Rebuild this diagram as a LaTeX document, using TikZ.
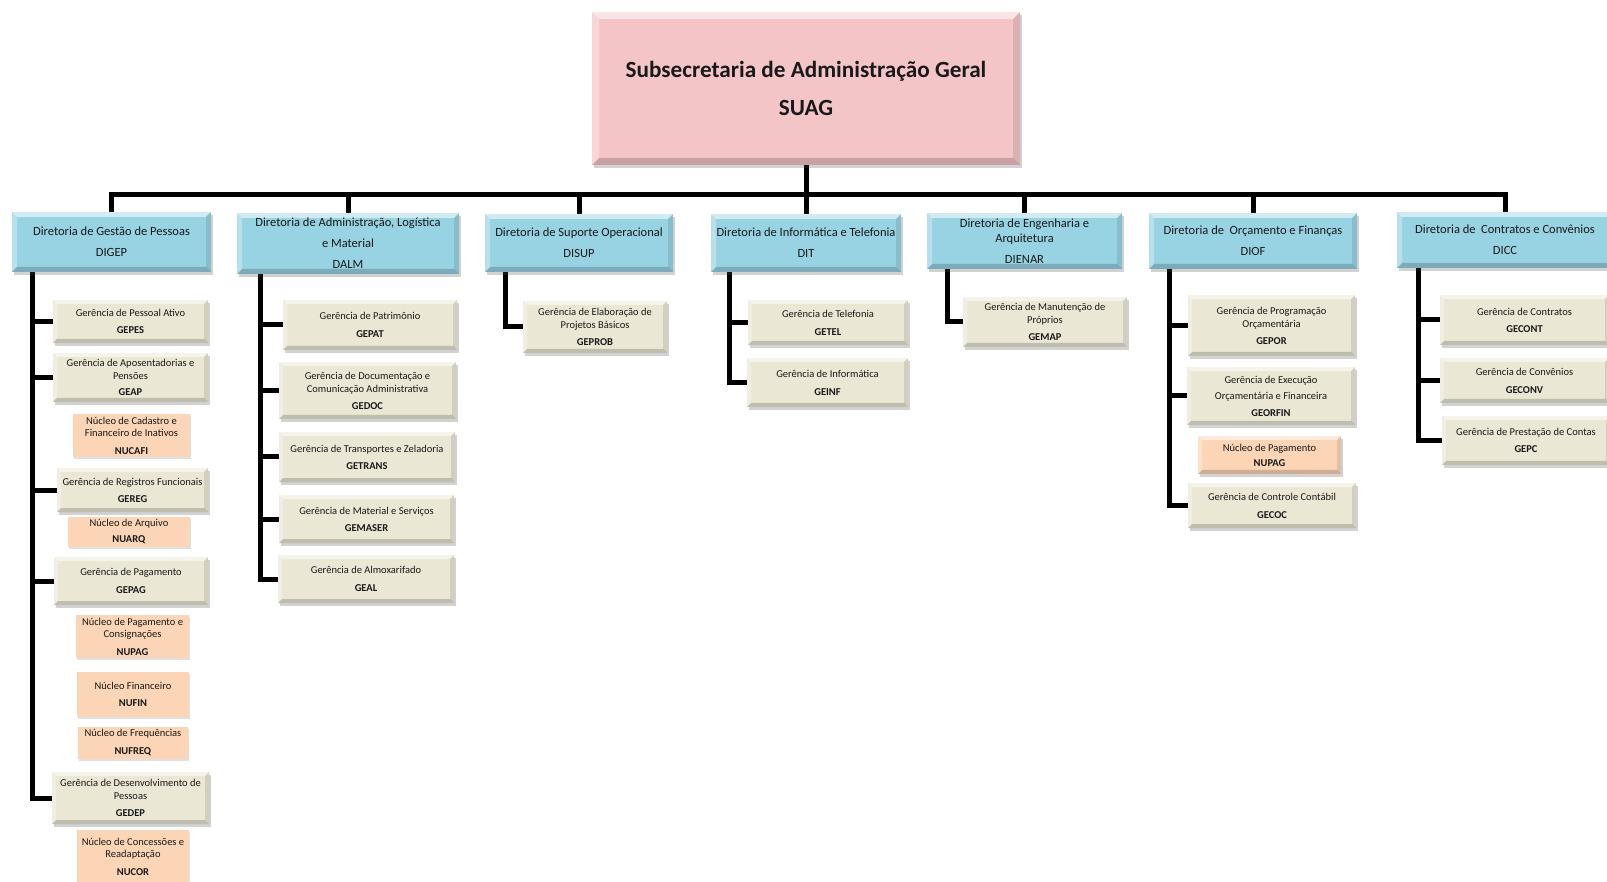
\documentclass[tikz,border=0pt]{standalone}
\usepackage{fontspec}
\setmainfont{Carlito}
\usetikzlibrary{shadows}
\pgfdeclarelayer{paper}
\pgfdeclarelayer{background}
\pgfsetlayers{paper,background,main}
\definecolor{pinkc}{RGB}{244,197,199}
\definecolor{bluec}{RGB}{152,211,228}
\definecolor{tanc}{RGB}{234,231,212}
\definecolor{peachc}{RGB}{251,213,181}
\tikzset{
  bevel/.style={path picture={
    \coordinate (bvA) at (path picture bounding box.north west);
    \coordinate (bvB) at (path picture bounding box.north east);
    \coordinate (bvC) at (path picture bounding box.south east);
    \coordinate (bvD) at (path picture bounding box.south west);
    \fill[white,opacity=.55] (bvA) -- (bvB) -- ([shift={(-#1,-#1)}]bvB) -- ([shift={(#1,-#1)}]bvA) -- cycle;
    \fill[white,opacity=.3] (bvA) -- ([shift={(#1,-#1)}]bvA) -- ([shift={(#1,#1)}]bvD) -- (bvD) -- cycle;
    \fill[black,opacity=.18] (bvD) -- ([shift={(#1,#1)}]bvD) -- ([shift={(-#1,#1)}]bvC) -- (bvC) -- cycle;
    \fill[black,opacity=.1] (bvC) -- ([shift={(-#1,#1)}]bvC) -- ([shift={(-#1,-#1)}]bvB) -- (bvB) -- cycle;
  }},
  boxbase/.style={rectangle, inner sep=0pt, align=center, text=black!90,
    drop shadow={shadow xshift=2pt, shadow yshift=-3pt, opacity=.25, fill=black!70}},
  topbox/.style={boxbase, fill=pinkc, bevel=7pt, font=\fontsize{23.2}{38}\selectfont\bfseries},
  dirbox/.style={boxbase, fill=bluec, bevel=5pt, font=\fontsize{12.5}{21}\selectfont},
  gerbox/.style={boxbase, fill=tanc, bevel=4pt, font=\fontsize{10.5}{13.5}\selectfont},
  nucbox/.style={rectangle, inner sep=0pt, align=center, fill=peachc, text=black!90,
    font=\fontsize{10.5}{12}\selectfont,
    drop shadow={shadow xshift=1pt, shadow yshift=-2pt, opacity=.2, fill=black!60}},
  nucbev/.style={boxbase, fill=peachc, bevel=4pt, font=\fontsize{10.5}{13}\selectfont},
  conn/.style={line width=5pt, black, line join=miter},
}
\newcommand\placebox[7]{%
  \node[#1, minimum width={#5-#3}, minimum height={#6-#4}] (#2) at ({(#3+#5)/2},{(#4+#6)/2}) {#7};}
\begin{document}
\begin{tikzpicture}[x=1pt,y=-1pt]
\useasboundingbox (0,0) rectangle (1607,882);
\clip (0,0) rectangle (1607,882);
\begin{pgfonlayer}{paper}
\fill[white] (0,0) rectangle (1607,882);
\end{pgfonlayer}

% top
\placebox{topbox}{suag}{592}{12}{1020}{165}{Subsecretaria de Administração Geral\\SUAG}

% directorates
\placebox{dirbox}{digep}{12}{212}{211}{272}{Diretoria de Gestão de Pessoas\\DIGEP}
\placebox{dirbox}{dalm}{237}{213}{459}{274}{Diretoria de Administração, Logística\\e Material\\DALM}
\placebox{dirbox}{disup}{485}{214}{673}{272}{Diretoria de Suporte Operacional\\DISUP}
\placebox{dirbox}{dit}{711}{214}{901}{272}{Diretoria de Informática e Telefonia\\DIT}
\placebox{dirbox}{dienar}{927}{213}{1122}{269}{Diretoria de Engenharia e\\[-6pt]Arquitetura\\DIENAR}
\placebox{dirbox}{diof}{1149}{213}{1357}{269}{Diretoria de\ \ Orçamento e Finanças\\DIOF}
\placebox{dirbox}{dicc}{1397}{212}{1613}{268}{Diretoria de\ \ Contratos e Convênios\\DICC}

% DIGEP
\placebox{gerbox}{gepes}{53}{300}{208}{343}{Gerência de Pessoal Ativo\\[3.5pt]\textbf{GEPES}}
\placebox{gerbox}{geap}{53}{353}{208}{402}{Gerência de Aposentadorias e\\Pensões\\[2.5pt]\textbf{GEAP}}
\placebox{nucbox}{nucafi}{73}{414}{190}{457}{Núcleo de Cadastro e\\Financeiro de Inativos\\[6pt]\textbf{NUCAFI}}
\placebox{gerbox}{gereg}{57}{468}{208}{512}{Gerência de Registros Funcionais\\[3.5pt]\textbf{GEREG}}
\placebox{nucbox}{nuarq}{68}{517}{190}{547}{Núcleo de Arquivo\\[4pt]\textbf{NUARQ}}
\placebox{gerbox}{gepag}{54}{557}{208}{605}{Gerência de Pagamento\\[4.5pt]\textbf{GEPAG}}
\placebox{nucbox}{nupaga}{76}{615}{189}{658}{Núcleo de Pagamento e\\Consignações\\[6pt]\textbf{NUPAG}}
\placebox{nucbox}{nufin}{77}{672}{189}{717}{Núcleo Financeiro\\[5pt]\textbf{NUFIN}}
\placebox{nucbox}{nufreq}{78}{727}{188}{759}{Núcleo de Frequências\\[6pt]\textbf{NUFREQ}}
\placebox{gerbox}{gedep}{52}{772}{209}{824}{Gerência de Desenvolvimento de\\[-0.5pt]Pessoas\\[3.5pt]\textbf{GEDEP}}
\placebox{nucbox}{nucor}{77}{830}{189}{884}{Núcleo de Concessões e\\Readaptação\\[6pt]\textbf{NUCOR}}

% DALM
\placebox{gerbox}{gepat}{283}{300}{457}{350}{Gerência de Patrimônio\\[4.5pt]\textbf{GEPAT}}
\placebox{gerbox}{gedoc}{279}{362}{456}{419}{Gerência de Documentação e\\[-0.5pt]Comunicação Administrativa\\[3.5pt]\textbf{GEDOC}}
\placebox{gerbox}{getrans}{279}{432}{455}{482}{Gerência de Transportes e Zeladoria\\[3.5pt]\textbf{GETRANS}}
\placebox{gerbox}{gemaser}{279}{495}{454}{543}{Gerência de Material e Serviços\\[3.5pt]\textbf{GEMASER}}
\placebox{gerbox}{geal}{278}{555}{454}{603}{Gerência de Almoxarifado\\[4.5pt]\textbf{GEAL}}

% DISUP
\placebox{gerbox}{geprob}{523}{301}{667}{353}{Gerência de Elaboração de\\Projetos Básicos\\[3.5pt]\textbf{GEPROB}}

% DIT
\placebox{gerbox}{getel}{748}{300}{908}{345}{Gerência de Telefonia\\[4.5pt]\textbf{GETEL}}
\placebox{gerbox}{geinf}{747}{358}{908}{407}{Gerência de Informática\\[4.5pt]\textbf{GEINF}}

% DIENAR
\placebox{gerbox}{gemap}{963}{297}{1127}{347}{Gerência de Manutenção de\\[-0.5pt]Próprios\\[3.5pt]\textbf{GEMAP}}

% DIOF
\placebox{gerbox}{gepor}{1188}{295}{1355}{356}{Gerência de Programação\\[-0.5pt]Orçamentária\\[3.5pt]\textbf{GEPOR}}
\placebox{gerbox}{georfin}{1187}{367}{1355}{425}{Gerência de Execução\\[2.5pt]Orçamentária e Financeira\\[3.5pt]\textbf{GEORFIN}}
\placebox{nucbev}{nupagb}{1198}{436}{1341}{474}{Núcleo de Pagamento\\[2pt]\textbf{NUPAG}}
\placebox{gerbox}{gecoc}{1188}{483}{1356}{528}{Gerência de Controle Contábil\\[4.5pt]\textbf{GECOC}}

% DICC
\placebox{gerbox}{gecont}{1440}{295}{1609}{345}{Gerência de Contratos\\[3.5pt]\textbf{GECONT}}
\placebox{gerbox}{geconv}{1440}{358}{1609}{403}{Gerência de Convênios\\[4.5pt]\textbf{GECONV}}
\placebox{gerbox}{gepc}{1442}{416}{1610}{465}{Gerência de Prestação de Contas\\[3.5pt]\textbf{GEPC}}

% connectors
\coordinate (bus) at (806,195);
\coordinate (vdigep) at ([xshift=21pt]digep.south west);
\coordinate (vdalm) at ([xshift=24pt]dalm.south west);
\coordinate (vdisup) at ([xshift=21pt]disup.south west);
\coordinate (vdit) at ([xshift=19pt]dit.south west);
\coordinate (vdienar) at ([xshift=21pt]dienar.south west);
\coordinate (vdiof) at ([xshift=21pt]diof.south west);
\coordinate (vdicc) at ([xshift=22pt]dicc.south west);
\begin{pgfonlayer}{background}
\draw[conn] (suag.south) -- (bus);
\draw[conn] (digep.north) |- (bus) -| (dicc.north);
\foreach \d in {dalm,disup,dit,dienar,diof} \draw[conn] (\d.north) -- (\d.north |- bus);
\foreach \c in {gepes,geap,gereg,gepag,gedep} \draw[conn] (vdigep) |- (\c.west);
\foreach \c in {gepat,gedoc,getrans,gemaser,geal} \draw[conn] (vdalm) |- (\c.west);
\draw[conn] (vdisup) |- (geprob.west);
\foreach \c in {getel,geinf} \draw[conn] (vdit) |- (\c.west);
\draw[conn] (vdienar) |- (gemap.west);
\foreach \c in {gepor,georfin,gecoc} \draw[conn] (vdiof) |- (\c.west);
\foreach \c in {gecont,geconv,gepc} \draw[conn] (vdicc) |- (\c.west);
\end{pgfonlayer}
\end{tikzpicture}
\end{document}
